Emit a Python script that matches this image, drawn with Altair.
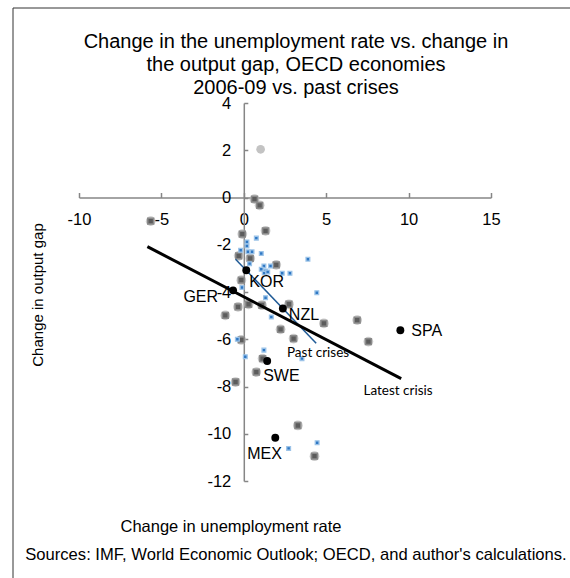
import altair as alt
import pandas as pd

# ---------------- data ----------------
gray_x = [-5.65, 0.65, 0.96, -0.09, 1.32, -0.31, 0.39, 1.97, -0.15, -0.35, 0.29, 1.10,
          2.74, -1.12, 4.86, 2.23, 3.02, -0.15, 1.14, 0.76, -0.50, 6.88, 7.56, 3.28, 4.29]
gray_y = [-1.00, -0.07, -0.33, -1.55, -1.41, -2.47, -2.58, -2.85, -3.50, -4.63, -4.52, -4.56,
          -4.52, -4.99, -5.33, -5.58, -5.97, -6.03, -6.82, -7.39, -7.81, -5.19, -6.10, -9.65, -10.95]

blue_x = [0.76, 0.19, 0.19, -0.19, 0.25, 0.50, 1.06, 0.35, 3.89, 1.62, 1.22, 1.06, 1.32,
          1.24, 1.45, 2.33, 2.80, -0.11, 4.43, 1.32, 1.67, -0.39, 1.22, 0.09, 3.53, 2.72, 4.45]
blue_y = [-1.72, -1.88, -2.05, -2.23, -2.30, -2.30, -2.37, -2.80, -2.61, -2.90, -2.90, -3.04, -3.11,
          -3.20, -3.15, -3.21, -3.21, -3.81, -4.03, -4.24, -5.06, -6.00, -6.46, -6.74, -6.82, -10.62, -10.38]

country = ["KOR", "GER", "NZL", "SPA", "SWE", "MEX"]
country_x = [0.15, -0.65, 2.37, 9.50, 1.42, 1.91]
country_y = [-3.08, -3.93, -4.70, -5.62, -6.92, -10.17]

other_x = [1.02]
other_y = [2.04]

latest_x = [-5.85, 9.55]
latest_y = [-2.08, -7.67]
past_x = [-0.50, 4.39]
past_y = [-2.61, -6.17]

line_label = ["Past crises", "Latest crisis"]
line_label_x = [2.62, 7.26]
line_label_y = [-6.57, -8.19]

x_ticks = [-10, -5, 0, 5, 10, 15]
y_ticks = [-12, -10, -8, -6, -4, -2, 0, 2, 4]

title_lines = ["Change in the unemployment rate vs. change in",
               "the output gap, OECD economies",
               "2006-09 vs. past crises"]
x_title = "Change in unemployment rate"
y_title = "Change in output gap"
source = "Sources: IMF, World  Economic Outlook; OECD, and author's calculations."

# ---------------- layout ----------------
W, H = 412, 378
PAD = {"left": 79, "top": 103, "right": 79, "bottom": 97}
FONT = "Liberation Sans"
AXIS_GRAY = "#868686"
HYPHEN_LABEL = "'' + datum.value"

xs = alt.Scale(domain=[-10, 15], nice=False, zero=False)
ys = alt.Scale(domain=[-12, 4], nice=False, zero=False)

x_axis = alt.Axis(orient="top", offset=-H * 4 / 16, values=x_ticks, title=None, grid=False,
                  tickSize=5, labelPadding=-27, labelBaseline="middle", labelFlush=False,
                  labelOverlap=False, labelExpr=HYPHEN_LABEL, domainColor=AXIS_GRAY,
                  tickColor=AXIS_GRAY, domainWidth=1.5, tickWidth=1.5, labelFont=FONT,
                  labelFontSize=16.5, labelColor="black")
y_axis = alt.Axis(orient="right", offset=-W * 15 / 25, values=y_ticks, title=None, grid=False,
                  tickSize=4, labelPadding=-17, labelAlign="right", labelBaseline="middle",
                  labelFlush=False, labelOverlap=False, labelExpr=HYPHEN_LABEL,
                  domainColor=AXIS_GRAY, tickColor=AXIS_GRAY, domainWidth=1.5, tickWidth=1.5,
                  labelFont=FONT, labelFontSize=16.5, labelColor="black")


def X():
    return alt.X("x:Q", scale=xs, axis=x_axis)


def Y():
    return alt.Y("y:Q", scale=ys, axis=y_axis)


gray_df = pd.DataFrame({"x": gray_x, "y": gray_y})
blue_df = pd.DataFrame({"x": blue_x, "y": blue_y})
ctry_df = pd.DataFrame({"x": country_x, "y": country_y, "name": country})
other_df = pd.DataFrame({"x": other_x, "y": other_y})
latest_df = pd.DataFrame({"x": latest_x, "y": latest_y})
past_df = pd.DataFrame({"x": past_x, "y": past_y})
lbl_df = pd.DataFrame({"x": line_label_x, "y": line_label_y, "t": line_label})

gray_halo = alt.Chart(gray_df).mark_circle(size=95, color="#b4b4b4", opacity=0.7).encode(x=X(), y=Y())
gray = alt.Chart(gray_df).mark_point(shape="square", filled=True, size=34, color="#5c5c5c",
                                     stroke="#8a8a8a", strokeWidth=1.5, opacity=1).encode(x=X(), y=Y())
blue = alt.Chart(blue_df).mark_point(shape="square", filled=True, size=14, color="#2f78c4",
                                     stroke="#9cc3e8", strokeWidth=1.3, opacity=1).encode(x=X(), y=Y())
other = alt.Chart(other_df).mark_circle(size=75, color="#c3c3c3", opacity=1).encode(x=X(), y=Y())
latest = alt.Chart(latest_df).mark_line(color="black", strokeWidth=3).encode(x=X(), y=Y())
past = alt.Chart(past_df).mark_line(color="#1f5a96", strokeWidth=1.5).encode(x=X(), y=Y())
ctry = alt.Chart(ctry_df).mark_circle(size=62, color="black", opacity=1).encode(x=X(), y=Y())

line_lbls = alt.Chart(lbl_df).mark_text(align="left", baseline="middle", font="Lato",
                                        fontSize=13.5, color="black").encode(x=X(), y=Y(), text="t:N")

# label placement (pixels) relative to each country marker
LABEL_POS = {
    "KOR": dict(align="left", dx=3, dy=12),
    "GER": dict(align="right", dx=-15, dy=7),
    "NZL": dict(align="left", dx=6, dy=6),
    "SPA": dict(align="left", dx=11, dy=1),
    "SWE": dict(align="left", dx=-4, dy=15),
    "MEX": dict(align="left", dx=-28, dy=16),
}
ctry_lbls = []
for name in country:
    p = LABEL_POS[name]
    ctry_lbls.append(
        alt.Chart(ctry_df).transform_filter(alt.datum.name == name)
        .mark_text(baseline="middle", font=FONT, fontSize=16, color="black", **p)
        .encode(x=X(), y=Y(), text="name:N")
    )

one = pd.DataFrame({"k": [0]})
title = alt.Chart(one).mark_text(text=title_lines, font=FONT, fontSize=20, lineHeight=23,
                                 align="center", baseline="middle", color="black").encode(
    x=alt.value(217), y=alt.value(-61))
xt = alt.Chart(one).mark_text(text=x_title, font=FONT, fontSize=16.5, align="center",
                              baseline="middle", color="black").encode(
    x=alt.value(152), y=alt.value(424))
yt = alt.Chart(one).mark_text(text=y_title, font=FONT, fontSize=15, align="center",
                              baseline="middle", angle=270, color="black").encode(
    x=alt.value(-41), y=alt.value(192))
src = alt.Chart(one).mark_text(text=source, font=FONT, fontSize=16.6, align="center",
                               baseline="middle", color="black").encode(
    x=alt.value(217), y=alt.value(452))
frame_v = alt.Chart(one).mark_rule(color="#333333", strokeWidth=1).encode(
    x=alt.value(-66), y=alt.value(-95), y2=alt.value(480))
frame_h = alt.Chart(one).mark_rule(color="#333333", strokeWidth=1).encode(
    x=alt.value(-66), x2=alt.value(495), y=alt.value(-95))

chart = alt.layer(
    gray_halo, gray, blue, other, past, latest, ctry, line_lbls, *ctry_lbls,
    title, xt, yt, src, frame_v, frame_h
).properties(
    width=W, height=H,
    autosize=alt.AutoSizeParams(type="none"),
    padding=PAD,
    background="white",
).configure_view(stroke="transparent")

chart.save("out.html", embed_options={"renderer": "svg", "actions": False})
